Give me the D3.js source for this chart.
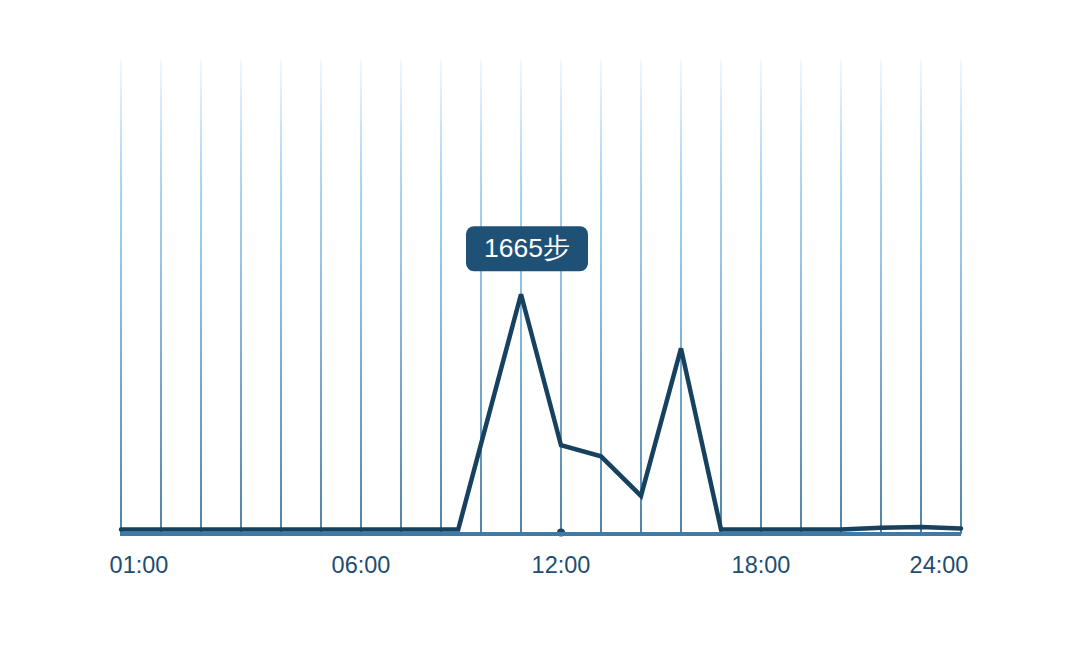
<!DOCTYPE html>
<html>
<head>
<meta charset="utf-8">
<script src="https://cdn.jsdelivr.net/npm/d3@7"></script>
<style>
  html, body { margin: 0; padding: 0; background: #ffffff; }
  svg { display: block; }
  text { font-family: "Liberation Sans", Arial, sans-serif; }
</style>
</head>
<body>
<svg id="chart" width="1080" height="672"></svg>
<script>
// ---- data ----
const gridSlots = d3.range(22);                       // 22 vertical grid columns
const pointSlots = [0, 8.43, 10, 11, 12, 13, 14, 15, 18, 19, 20, 21];
const stepValues = [0, 0, 1665, 596, 518, 238, 1282, 0, 0, 13, 17, 7];
const tickLabels = ["01:00", "06:00", "12:00", "18:00", "24:00"];
const tickSlots = [0.45, 6, 11, 16, 20.45];
const markerSlot = 11;                                 // 12:00 marker dot
const peakLabel = "1665步";
const yMax = 3330;

// ---- layout ----
const svg = d3.select("#chart");
const x = d3.scaleLinear().domain([0, 21]).range([121, 961]);
const y = d3.scaleLinear().domain([0, yMax]).range([529.5, 59]);
const axisY = 534;

// gradient for grid lines
const defs = svg.append("defs");
const grad = defs.append("linearGradient")
  .attr("id", "gridGrad").attr("gradientUnits", "userSpaceOnUse")
  .attr("x1", 0).attr("x2", 0).attr("y1", 59).attr("y2", axisY);
[[0, "#f1f8fe"], [0.22, "#a9d4f5"], [0.5, "#7fb5de"], [1, "#3a76a2"]]
  .forEach(([o, c]) => grad.append("stop").attr("offset", o).attr("stop-color", c));

// grid lines
svg.append("g").selectAll("line").data(gridSlots).join("line")
  .attr("x1", d => x(d)).attr("x2", d => x(d))
  .attr("y1", 59).attr("y2", axisY)
  .attr("stroke", "url(#gridGrad)").attr("stroke-width", 1.8);

// data line
const line = d3.line()
  .x((d, i) => x(pointSlots[i]))
  .y(d => y(d))
  .curve(d3.curveLinear);
svg.append("path").datum(stepValues)
  .attr("d", line)
  .attr("fill", "none")
  .attr("stroke", "#16415f")
  .attr("stroke-width", 4.5)
  .attr("stroke-linejoin", "miter")
  .attr("stroke-miterlimit", 2)
  .attr("stroke-linecap", "round");

// marker dot at 12:00
svg.append("circle")
  .attr("cx", x(markerSlot)).attr("cy", axisY - 1.5)
  .attr("r", 4).attr("fill", "#1b4566");

// axis baseline
svg.append("line")
  .attr("x1", x(0) - 1).attr("x2", x(21))
  .attr("y1", axisY).attr("y2", axisY)
  .attr("stroke", "#3f7ba7").attr("stroke-width", 4);

// tick labels
svg.append("g").selectAll("text").data(tickLabels).join("text")
  .attr("x", (d, i) => x(tickSlots[i]))
  .attr("y", 573)
  .attr("text-anchor", "middle")
  .attr("font-size", 23.5)
  .attr("fill", "#1e4d72")
  .text(d => d);

// peak tooltip
const peakIdx = stepValues.indexOf(d3.max(stepValues));
const px = x(pointSlots[peakIdx]), py = y(stepValues[peakIdx]);
const bw = 122, bh = 45;
const bx = px + 6 - bw / 2, by = py - 23 - bh;
svg.append("rect")
  .attr("x", bx).attr("y", by).attr("width", bw).attr("height", bh)
  .attr("rx", 8).attr("ry", 8).attr("fill", "#1f5177");
svg.append("text")
  .attr("x", bx + bw / 2).attr("y", by + 31)
  .attr("text-anchor", "middle")
  .attr("font-size", 26.5)
  .attr("fill", "#ffffff")
  .text(peakLabel);
</script>
</body>
</html>
